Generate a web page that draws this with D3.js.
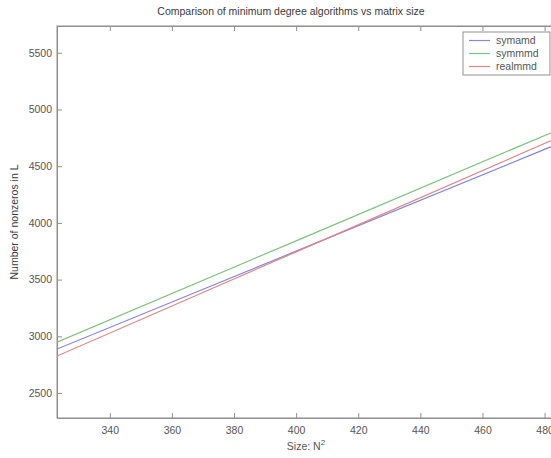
<!DOCTYPE html>
<html>
<head>
<meta charset="utf-8">
<script src="https://cdn.jsdelivr.net/npm/d3@7"></script>
<style>
  html, body { margin: 0; padding: 0; background: #fff; }
  svg { display: block; font-family: "Liberation Sans", Arial, sans-serif; }
</style>
</head>
<body>
<svg id="chart" width="551" height="458"></svg>
<script>
// Matrix sizes (N^2) and nonzero counts of the factor L for each ordering
const sizes = [323, 400, 484];
const symamd = [2888, 3751, 4693];
const symmmd = [2949, 3842, 4817];
const realmmd = [2826, 3745, 4748];

const seriesNames = ["symamd", "symmmd", "realmmd"];
const seriesColors = ["#8585dc", "#7fc27f", "#df8585"];
const xTicks = [340, 360, 380, 400, 420, 440, 460, 480];
const yTicks = [2500, 3000, 3500, 4000, 4500, 5000, 5500];

(function () {
  const svg = d3.select("#chart");
  const mLeft = 57, mRight = 557, mTop = 26, mBottom = 418;

  const x = d3.scaleLinear().domain([323, 484]).range([mLeft, mRight]);
  const y = d3.scaleLinear().domain([2280, 5736]).range([mBottom, mTop]);

  const axisColor = "#8f8f8f";
  const textColor = "#555";
  const fmt = d3.format("d");

  // plot box
  svg.append("rect")
    .attr("x", mLeft).attr("y", mTop)
    .attr("width", mRight - mLeft).attr("height", mBottom - mTop)
    .attr("fill", "#fff")
    .attr("stroke", axisColor).attr("stroke-width", 1);

  // clip for the data lines
  svg.append("defs").append("clipPath").attr("id", "plotClip")
    .append("rect").attr("x", mLeft).attr("y", mTop)
    .attr("width", mRight - mLeft).attr("height", mBottom - mTop);

  // bottom axis (ticks pointing inward)
  const gx = svg.append("g").attr("transform", `translate(0,${mBottom})`)
    .call(d3.axisBottom(x).tickValues(xTicks).tickFormat(fmt).tickSize(-5).tickPadding(9).tickSizeOuter(0));
  // top axis ticks
  const gxt = svg.append("g").attr("transform", `translate(0,${mTop})`)
    .call(d3.axisTop(x).tickValues(xTicks).tickSize(-5).tickFormat("").tickSizeOuter(0));
  // left axis
  const gy = svg.append("g").attr("transform", `translate(${mLeft},0)`)
    .call(d3.axisLeft(y).tickValues(yTicks).tickFormat(fmt).tickSize(-5).tickPadding(5).tickSizeOuter(0));

  [gx, gxt, gy].forEach(g => {
    g.select(".domain").attr("stroke", axisColor);
    g.selectAll(".tick line").attr("stroke", axisColor);
    g.selectAll(".tick text").attr("fill", textColor)
      .style("font-size", "10.5px")
      .style("font-family", "Liberation Sans, Arial, sans-serif");
  });

  // series lines
  const allSeries = [symamd, symmmd, realmmd];
  const line = d3.line().x((d, i) => x(sizes[i])).y(d => y(d));
  svg.append("g").attr("clip-path", "url(#plotClip)")
    .selectAll("path").data(allSeries).join("path")
    .attr("d", d => line(d))
    .attr("fill", "none")
    .attr("stroke", (d, i) => seriesColors[i])
    .attr("stroke-width", 1.2);

  // title
  svg.append("text")
    .attr("x", 291).attr("y", 15)
    .attr("text-anchor", "middle")
    .attr("fill", "#3a3a3a")
    .style("font-size", "10.5px")
    .text("Comparison of minimum degree algorithms vs matrix size");

  // x label
  const xl = svg.append("text")
    .attr("x", 306).attr("y", 450)
    .attr("text-anchor", "middle")
    .attr("fill", textColor)
    .style("font-size", "10.5px");
  xl.append("tspan").text("Size: N");
  xl.append("tspan").attr("dy", -5).style("font-size", "8px").text("2");

  // y label
  svg.append("text")
    .attr("transform", `translate(18,${(mTop + mBottom) / 2}) rotate(-90)`)
    .attr("text-anchor", "middle")
    .attr("fill", "#3a3a3a")
    .style("font-size", "10.5px")
    .text("Number of nonzeros in L");

  // legend
  const lg = svg.append("g");
  lg.append("rect")
    .attr("x", 463).attr("y", 32).attr("width", 87).attr("height", 43)
    .attr("fill", "#fff").attr("stroke", axisColor);
  seriesNames.forEach((name, i) => {
    const ly = 40.5 + i * 13;
    lg.append("line")
      .attr("x1", 469).attr("x2", 490).attr("y1", ly).attr("y2", ly)
      .attr("stroke", seriesColors[i]).attr("stroke-width", 1.2);
    lg.append("text")
      .attr("x", 496).attr("y", ly + 3.5)
      .attr("fill", textColor)
      .style("font-size", "10.5px")
      .text(name);
  });
})();
</script>
</body>
</html>
